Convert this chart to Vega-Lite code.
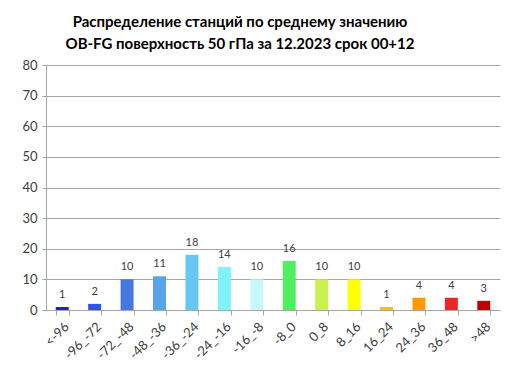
{
  "$schema": "https://vega.github.io/schema/vega-lite/v6.json",
  "width": 454,
  "height": 245,
  "autosize": {"type": "none"},
  "padding": {"left": 46, "top": 65, "right": 8, "bottom": 74},
  "background": "white",
  "title": {
    "text": ["Распределение станций по среднему значению", "OB-FG поверхность  50 гПа за 12.2023 срок  00+12"],
    "font": "Lato",
    "fontSize": 15,
    "fontWeight": "bold",
    "color": "#000000",
    "lineHeight": 22,
    "anchor": "middle",
    "dx": -33,
    "offset": 7
  },
  "data": {
    "values": [
      {"cat": "<-96", "n": 1, "c": "#2222c0"},
      {"cat": "-96_-72", "n": 2, "c": "#3355dd"},
      {"cat": "-72_-48", "n": 10, "c": "#4477e0"},
      {"cat": "-48_-36", "n": 11, "c": "#58a4e8"},
      {"cat": "-36_-24", "n": 18, "c": "#66c8f2"},
      {"cat": "-24_-16", "n": 14, "c": "#80f2fa"},
      {"cat": "-16_-8", "n": 10, "c": "#c8f8fa"},
      {"cat": "-8_0", "n": 16, "c": "#50ee60"},
      {"cat": "0_8", "n": 10, "c": "#c8f050"},
      {"cat": "8_16", "n": 10, "c": "#ffff00"},
      {"cat": "16_24", "n": 1, "c": "#f0c800"},
      {"cat": "24_36", "n": 4, "c": "#ff9a00"},
      {"cat": "36_48", "n": 4, "c": "#f02428"},
      {"cat": ">48", "n": 3, "c": "#c00000"}
    ]
  },
  "encoding": {
    "x": {
      "field": "cat",
      "type": "nominal",
      "sort": null,
      "scale": {"paddingInner": 0.6, "paddingOuter": 0.3},
      "axis": {
        "title": null,
        "labelAngle": -45,
        "labelFont": "Lato",
        "labelFontSize": 13,
        "labelColor": "#404040",
        "labelPadding": 5,
        "domainColor": "#a6a6a6",
        "tickColor": "#a6a6a6",
        "tickBand": "extent",
        "tickSize": 5,
        "grid": false
      }
    },
    "y": {
      "field": "n",
      "type": "quantitative",
      "scale": {"domain": [0, 80]},
      "axis": {
        "title": null,
        "values": [0, 10, 20, 30, 40, 50, 60, 70, 80],
        "labelFont": "Lato",
        "labelFontSize": 13,
        "labelColor": "#404040",
        "labelPadding": 5,
        "domain": true,
        "domainColor": "#a6a6a6",
        "tickColor": "#a6a6a6",
        "tickSize": 4,
        "gridColor": "#a6a6a6",
        "gridWidth": 1
      }
    }
  },
  "layer": [
    {
      "mark": {"type": "bar"},
      "encoding": {
        "color": {"field": "c", "type": "nominal", "scale": null}
      }
    },
    {
      "mark": {"type": "text", "dy": -7, "font": "Lato", "fontSize": 11, "color": "#404040", "baseline": "bottom"},
      "encoding": {"text": {"field": "n", "type": "quantitative"}}
    }
  ],
  "config": {"view": {"stroke": null}}
}
